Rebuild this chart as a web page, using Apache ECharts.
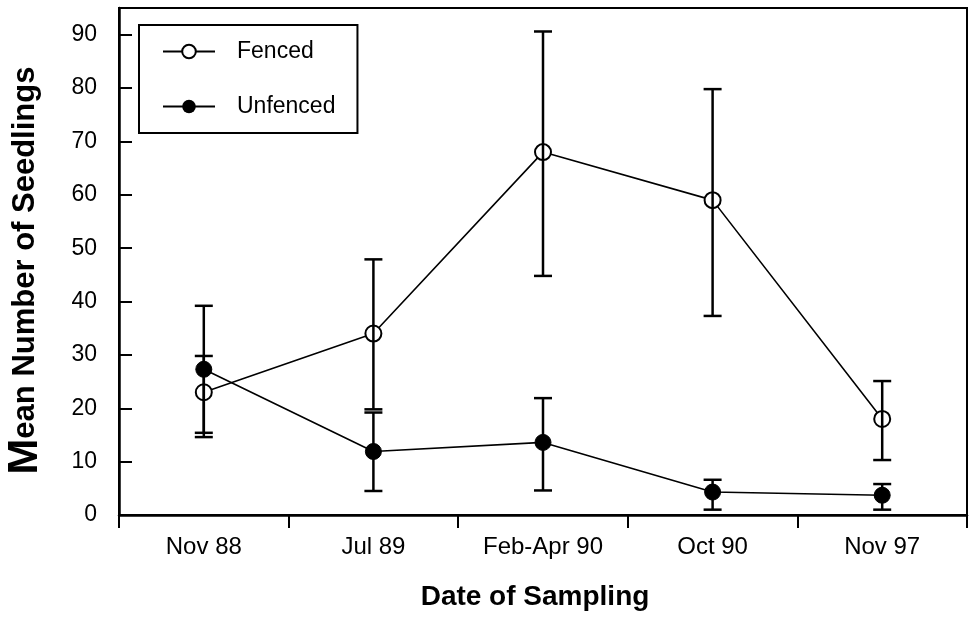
<!DOCTYPE html>
<html>
<head>
<meta charset="utf-8">
<script src="https://cdn.jsdelivr.net/npm/echarts@6/dist/echarts.min.js"></script>
<style>
html,body{margin:0;padding:0;background:#fff;}
#chart{width:969px;height:617px;}
</style>
</head>
<body>
<div id="chart"></div>
<script>
const categories = ['Nov 88', 'Jul 89', 'Feb-Apr 90', 'Oct 90', 'Nov 97'];
const fenced = [23, 34, 68, 59, 18];
const fencedLow = [15.4, 19.8, 44.8, 37.3, 10.3];
const fencedHigh = [29.8, 47.9, 90.6, 79.8, 25.1];
const unfenced = [27.3, 11.9, 13.6, 4.3, 3.7];
const unfencedLow = [14.6, 4.5, 4.6, 1.0, 1.0];
const unfencedHigh = [39.2, 19.2, 21.9, 6.6, 5.8];
const yTicks = [0, 10, 20, 30, 40, 50, 60, 70, 80, 90];

const FONT = '"Liberation Sans", Arial, sans-serif';

function errData(low, high) {
  return categories.map((c, i) => [i, low[i], high[i]]);
}

function renderErr(params, api) {
  const x = api.value(0);
  const lo = api.coord([x, api.value(1)]);
  const hi = api.coord([x, api.value(2)]);
  const w = 9;
  const style = { stroke: '#000', lineWidth: 2.5 };
  return {
    type: 'group',
    children: [
      { type: 'line', shape: { x1: hi[0], y1: hi[1], x2: lo[0], y2: lo[1] }, style: style },
      { type: 'line', shape: { x1: hi[0] - w, y1: hi[1], x2: hi[0] + w, y2: hi[1] }, style: style },
      { type: 'line', shape: { x1: lo[0] - w, y1: lo[1], x2: lo[0] + w, y2: lo[1] }, style: style }
    ]
  };
}

const chart = echarts.init(document.getElementById('chart'), null, { renderer: 'canvas' });
chart.setOption({
  animation: false,
  backgroundColor: '#fff',
  textStyle: { fontFamily: FONT, color: '#000' },
  grid: {
    left: 119, right: 2, top: 8, bottom: 102,
    containLabel: false,
    outerBoundsMode: 'none',
    show: true, borderColor: '#000', borderWidth: 2, backgroundColor: 'transparent'
  },
  legend: {
    orient: 'vertical',
    left: 139, top: 25,
    padding: [15, 22, 15, 23],
    itemGap: 32,
    itemWidth: 52,
    itemHeight: 17,
    borderColor: '#000',
    borderWidth: 2,
    backgroundColor: '#fff',
    textStyle: { fontFamily: FONT, fontSize: 23, color: '#000', padding: [0, 0, 0, 17] },
    data: ['Fenced', 'Unfenced']
  },
  xAxis: {
    type: 'category',
    data: categories,
    boundaryGap: true,
    axisLine: { lineStyle: { color: '#000', width: 2.5 } },
    axisTick: { show: true, inside: false, length: 13, alignWithLabel: false, lineStyle: { color: '#000', width: 2 } },
    axisLabel: { color: '#000', fontSize: 24, fontFamily: FONT, margin: 20 },
    splitLine: { show: false },
    name: 'Date of Sampling',
    nameLocation: 'middle',
    nameGap: 68,
    nameTextStyle: { fontSize: 28, fontWeight: 'bold', color: '#000', fontFamily: FONT, padding: [0, 16, 0, 0] }
  },
  yAxis: {
    type: 'value',
    min: 0, max: 95, interval: 10,
    axisLine: { show: true, lineStyle: { color: '#000', width: 2.5 } },
    axisTick: { show: true, inside: true, length: 13, lineStyle: { color: '#000', width: 2 } },
    axisLabel: {
      color: '#000', fontSize: 23, fontFamily: FONT, margin: 22,
      showMaxLabel: false,
      formatter: function (v) { return yTicks.indexOf(v) >= 0 ? String(v) : ''; }
    },
    splitLine: { show: false },
    name: '{big|M}ean Number of Seedlings',
    nameLocation: 'middle',
    nameGap: 72,
    nameTextStyle: {
      fontSize: 31, fontWeight: 'bold', color: '#000', fontFamily: FONT,
      padding: [0, 18, 0, 0],
      rich: { big: { fontSize: 43, fontWeight: 'bold', fontFamily: FONT, color: '#000' } }
    }
  },
  series: [
    {
      name: 'Fenced',
      type: 'line',
      data: fenced,
      symbol: 'emptyCircle',
      symbolSize: 16,
      lineStyle: { color: '#000', width: 1.6 },
      itemStyle: { color: '#000', borderColor: '#000', borderWidth: 1.6 },
      z: 3
    },
    {
      name: 'Unfenced',
      type: 'line',
      data: unfenced,
      symbol: 'circle',
      symbolSize: 16,
      lineStyle: { color: '#000', width: 1.6 },
      itemStyle: { color: '#000', borderColor: '#000' },
      z: 3
    },
    {
      name: 'FencedErr',
      type: 'custom',
      data: errData(fencedLow, fencedHigh),
      renderItem: renderErr,
      encode: { x: 0, y: [1, 2] },
      z: 4,
      silent: true
    },
    {
      name: 'UnfencedErr',
      type: 'custom',
      data: errData(unfencedLow, unfencedHigh),
      renderItem: renderErr,
      encode: { x: 0, y: [1, 2] },
      z: 4,
      silent: true
    }
  ]
});
</script>
</body>
</html>
